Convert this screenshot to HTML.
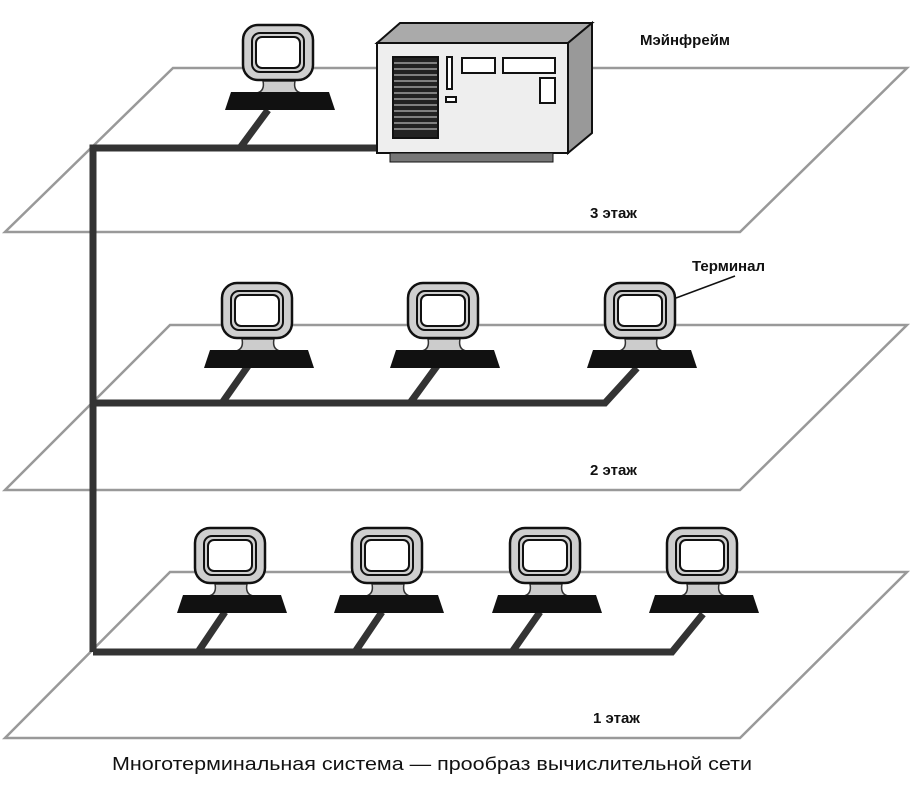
<!DOCTYPE html>
<html><head><meta charset="utf-8"><style>
html,body{margin:0;padding:0;background:#fff;}
svg{display:block;}
text{font-family:"Liberation Sans","Noto Sans CJK JP",sans-serif;fill:#111;}
</style></head><body>
<svg width="912" height="786" viewBox="0 0 912 786" xmlns="http://www.w3.org/2000/svg">
<defs>
<g id="t">
  <path d="M20,56 Q22,66 14,68 L58,68 Q50,66 52,56 Z" fill="#ccc" stroke="#333" stroke-width="1.5"/>
  <path d="M-12,67 L86,67 L92,85 L-18,85 Z" fill="#111"/>
  <rect x="0" y="0" width="70" height="55" rx="15" fill="#cfcfcf" stroke="#111" stroke-width="2.5"/>
  <rect x="9" y="8" width="52" height="39" rx="8" fill="none" stroke="#111" stroke-width="2"/>
  <rect x="13" y="12" width="44" height="31" rx="6" fill="#fff" stroke="#111" stroke-width="2"/>
</g>
</defs>
<g fill="none" stroke="#999" stroke-width="2.5">
  <polygon points="173,68 907,68 740,232 5,232"/>
  <polygon points="170,325 907,325 740,490 5,490"/>
  <polygon points="170,572 907,572 740,738 5,738"/>
</g>
<g fill="none" stroke="#333" stroke-width="7" stroke-linejoin="miter">
  <polyline points="93,652 93,148 380,148"/>
  <polyline points="93,403 605,403 637,368"/>
  <polyline points="93,652 672,652 703,614"/>
  <line x1="268" y1="110" x2="240" y2="148"/>
  <line x1="248" y1="366" x2="222" y2="403"/>
  <line x1="437" y1="366" x2="410" y2="403"/>
  <line x1="225" y1="612" x2="198" y2="652"/>
  <line x1="382" y1="612" x2="355" y2="652"/>
  <line x1="540" y1="612" x2="512" y2="652"/>
</g>
<use href="#t" x="243" y="25"/>
<use href="#t" x="222" y="283"/>
<use href="#t" x="408" y="283"/>
<use href="#t" x="605" y="283"/>
<use href="#t" x="195" y="528"/>
<use href="#t" x="352" y="528"/>
<use href="#t" x="510" y="528"/>
<use href="#t" x="667" y="528"/>
<g stroke="#111" stroke-width="2">
  <polygon points="377,43 400,23 592,23 568,43" fill="#aaa"/>
  <polygon points="568,43 592,23 592,133 568,153" fill="#999"/>
  <rect x="377" y="43" width="191" height="110" fill="#eee"/>
  <rect x="390" y="153" width="163" height="9" fill="#777" stroke-width="1"/>
  <rect x="393" y="57" width="45" height="81" fill="#222"/>
</g>
<g stroke="#ddd" stroke-width="1">
  <line x1="394" y1="63" x2="437" y2="63"/><line x1="394" y1="69" x2="437" y2="69"/>
  <line x1="394" y1="75" x2="437" y2="75"/><line x1="394" y1="81" x2="437" y2="81"/>
  <line x1="394" y1="87" x2="437" y2="87"/><line x1="394" y1="93" x2="437" y2="93"/>
  <line x1="394" y1="99" x2="437" y2="99"/><line x1="394" y1="105" x2="437" y2="105"/>
  <line x1="394" y1="111" x2="437" y2="111"/><line x1="394" y1="117" x2="437" y2="117"/>
  <line x1="394" y1="123" x2="437" y2="123"/><line x1="394" y1="129" x2="437" y2="129"/>
</g>
<g fill="#fff" stroke="#111" stroke-width="2">
  <rect x="447" y="57" width="5" height="32"/>
  <rect x="446" y="97" width="10" height="5"/>
  <rect x="462" y="58" width="33" height="15"/>
  <rect x="503" y="58" width="52" height="15"/>
  <rect x="540" y="78" width="15" height="25"/>
</g>
<line x1="676" y1="298" x2="735" y2="276" stroke="#111" stroke-width="1.5"/>
<text x="640" y="45" font-size="15" font-weight="bold">Мэйнфрейм</text>
<text x="590" y="218" font-size="15" font-weight="bold">3 этаж</text>
<text x="692" y="271" font-size="15" font-weight="bold">Терминал</text>
<text x="590" y="475" font-size="15" font-weight="bold">2 этаж</text>
<text x="593" y="723" font-size="15" font-weight="bold">1 этаж</text>
<text x="432" y="770" font-size="18" text-anchor="middle" textLength="640" lengthAdjust="spacingAndGlyphs">Многотерминальная система — прообраз вычислительной сети</text>
</svg>
</body></html>
